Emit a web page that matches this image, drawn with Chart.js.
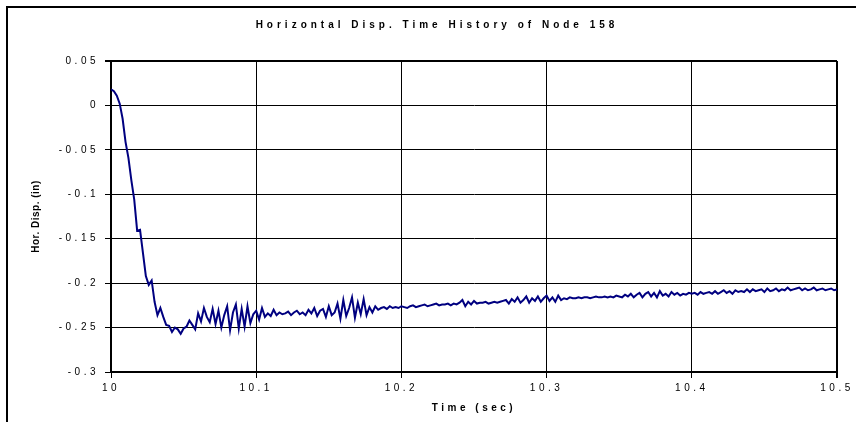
<!DOCTYPE html>
<html>
<head>
<meta charset="utf-8">
<script src="https://cdn.jsdelivr.net/npm/chart.js@4/dist/chart.umd.min.js"></script>
<style>
  html, body { margin: 0; padding: 0; background: #fff; }
  #wrap { position: relative; width: 856px; height: 422px; overflow: hidden; }
</style>
</head>
<body>
<div id="wrap"><canvas id="dispChart" width="856" height="422"></canvas></div>
<script>
// sampled every 2 ms from t = 10.000 s
const timeStart = 10.0;
const timeStep = 0.002;

const dispValues = [
  0.018, 0.016, 0.011, 0.002, -0.015, -0.041, -0.059, -0.084, -0.106, -0.141,
  -0.140, -0.166, -0.192, -0.202, -0.197, -0.221, -0.236, -0.228, -0.238, -0.247,
  -0.248, -0.255, -0.250, -0.252, -0.257, -0.251, -0.249, -0.242, -0.247, -0.252,
  -0.234, -0.243, -0.228, -0.238, -0.244, -0.229, -0.246, -0.231, -0.250, -0.236,
  -0.226, -0.253, -0.233, -0.224, -0.251, -0.229, -0.249, -0.226, -0.245, -0.235,
  -0.231, -0.241, -0.228, -0.238, -0.234, -0.237, -0.230, -0.236, -0.233, -0.235,
  -0.234, -0.232, -0.236, -0.233, -0.231, -0.235, -0.233, -0.236, -0.230, -0.234,
  -0.228, -0.237, -0.231, -0.229, -0.238, -0.226, -0.236, -0.233, -0.223, -0.240,
  -0.219, -0.237, -0.228, -0.216, -0.239, -0.222, -0.235, -0.218, -0.236, -0.227,
  -0.233, -0.226, -0.230, -0.228, -0.227, -0.229, -0.226, -0.228, -0.227, -0.228,
  -0.226, -0.227, -0.228, -0.226, -0.225, -0.227, -0.226, -0.225, -0.224, -0.226,
  -0.225, -0.224, -0.223, -0.225, -0.224, -0.224, -0.223, -0.225, -0.223, -0.224,
  -0.222, -0.219, -0.226, -0.221, -0.224, -0.220, -0.223, -0.222, -0.222, -0.221,
  -0.223, -0.222, -0.221, -0.222, -0.221, -0.220, -0.219, -0.223, -0.218, -0.221,
  -0.216, -0.222, -0.219, -0.215, -0.222, -0.217, -0.220, -0.215, -0.221, -0.217,
  -0.214, -0.220, -0.216, -0.221, -0.214, -0.219, -0.217, -0.218, -0.216, -0.217,
  -0.217, -0.216, -0.217, -0.216, -0.216, -0.217, -0.216, -0.215, -0.216, -0.216,
  -0.215, -0.216, -0.215, -0.216, -0.214, -0.215, -0.216, -0.213, -0.215, -0.212,
  -0.216, -0.213, -0.211, -0.216, -0.212, -0.210, -0.215, -0.211, -0.216, -0.209,
  -0.214, -0.212, -0.215, -0.210, -0.213, -0.211, -0.214, -0.212, -0.213, -0.211,
  -0.212, -0.211, -0.213, -0.210, -0.212, -0.211, -0.210, -0.212, -0.209, -0.212,
  -0.210, -0.208, -0.211, -0.209, -0.212, -0.208, -0.210, -0.209, -0.210, -0.207,
  -0.210, -0.207, -0.209, -0.208, -0.207, -0.210, -0.206, -0.209, -0.208, -0.206,
  -0.209, -0.207, -0.208, -0.205, -0.208, -0.207, -0.206, -0.205, -0.208, -0.206,
  -0.208, -0.207, -0.205, -0.208, -0.207, -0.206, -0.208, -0.207, -0.206, -0.208,
  -0.207
];

const xTicks = [10, 10.1, 10.2, 10.3, 10.4, 10.5];
const xTickLabels = ['10', '10.1', '10.2', '10.3', '10.4', '10.5'];
const yTicks = [-0.3, -0.25, -0.2, -0.15, -0.1, -0.05, 0, 0.05];
const yTickLabels = ['-0.3', '-0.25', '-0.2', '-0.15', '-0.1', '-0.05', '0', '0.05'];

const chartTitle = 'Horizontal Disp. Time History of Node 158';
const xTitle = 'Time (sec)';
const yTitle = 'Hor. Disp. (in)';

const FONT = "'Liberation Sans', Arial, sans-serif";

const points = dispValues.map((v, i) => ({ x: timeStart + i * timeStep, y: v }));

const textLayer = {
  id: 'textLayer',
  beforeDraw(chart) {
    const ctx = chart.ctx;
    ctx.fillStyle = '#000';
    ctx.fillRect(6, 6, 2, 422);
    ctx.fillRect(6, 6, 856, 2);
    ctx.letterSpacing = '3.5px';
  },
  afterDraw(chart) {
    const ctx = chart.ctx;
    const area = chart.chartArea;
    ctx.save();
    ctx.fillStyle = '#000';
    ctx.textBaseline = 'middle';
    ctx.textAlign = 'center';
    ctx.font = 'bold 10px ' + FONT;
    ctx.letterSpacing = '4px';
    ctx.fillText(chartTitle, 437, 25);
    ctx.letterSpacing = '3.5px';
    ctx.fillText(xTitle, (area.left + area.right) / 2, 408);
    ctx.letterSpacing = '0.5px';
    ctx.translate(36, (area.top + area.bottom) / 2);
    ctx.rotate(-Math.PI / 2);
    ctx.fillText(yTitle, 0, 0);
    ctx.restore();
  }
};

new Chart(document.getElementById('dispChart'), {
  type: 'line',
  data: {
    datasets: [{
      data: points,
      borderColor: '#000080',
      borderWidth: 2,
      pointRadius: 0,
      tension: 0,
      fill: false
    }]
  },
  options: {
    responsive: false,
    animation: false,
    layout: { padding: { left: 0, right: 19, top: 61, bottom: 0 } },
    plugins: { legend: { display: false }, title: { display: false }, tooltip: { enabled: false } },
    scales: {
      x: {
        type: 'linear',
        min: 10,
        max: 10.5,
        afterBuildTicks: (s) => { s.ticks = xTicks.map((v) => ({ value: v })); },
        afterFit: (s) => { s.height = 50; },
        ticks: {
          color: '#000',
          font: { family: FONT, size: 10 },
          padding: 4,
          maxRotation: 0,
          autoSkip: false,
          callback: (v) => xTickLabels[xTicks.indexOf(v)] ?? ''
        },
        grid: {
          color: '#000',
          lineWidth: (c) => (c.tick && c.tick.value === 10.5 ? 2 : 1),
          tickLength: 6
        },
        border: { color: '#000', width: 2 }
      },
      y: {
        min: -0.3,
        max: 0.05,
        afterBuildTicks: (s) => { s.ticks = yTicks.map((v) => ({ value: v })); },
        afterFit: (s) => { s.width = 111; },
        ticks: {
          color: '#000',
          font: { family: FONT, size: 10 },
          padding: 6,
          autoSkip: false,
          callback: (v) => yTickLabels[yTicks.indexOf(v)] ?? ''
        },
        grid: {
          color: '#000',
          lineWidth: (c) => (c.tick && c.tick.value === 0.05 ? 2 : 1),
          tickLength: 6
        },
        border: { color: '#000', width: 2 }
      }
    }
  },
  plugins: [textLayer]
});
</script>
</body>
</html>
